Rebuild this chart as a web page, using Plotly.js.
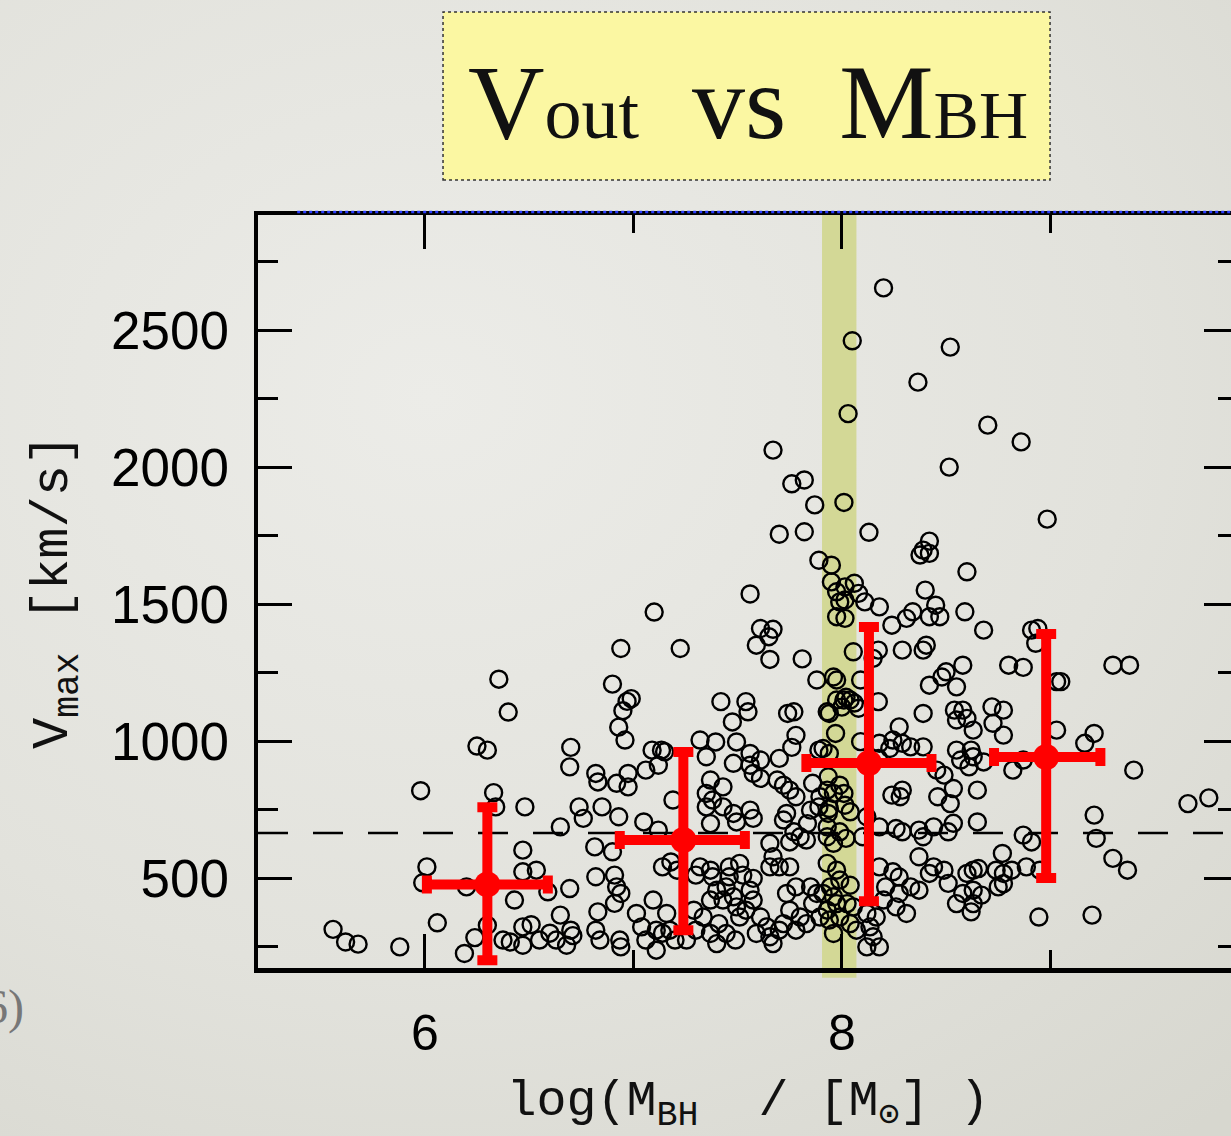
<!DOCTYPE html>
<html><head><meta charset="utf-8">
<script src="https://cdn.plot.ly/plotly-3.0.1.min.js"></script>
<style>
html,body{margin:0;padding:0;overflow:hidden;width:1231px;height:1136px;}
body{background: radial-gradient(ellipse 95% 85% at 35% 35%, #ececE8 0%, #e2e2dc 60%, #d7d7cf 100%);}
#chart{width:1262px;height:1136px;}
</style></head><body><div id="chart"></div>
<script>
// log(M_BH) for each source
const massX = [
8.20,8.05,8.52,8.365,8.03,8.70,8.86,7.67,8.515,7.82,7.76,7.87,8.01,8.985,7.70,7.82,8.13,8.42,
7.56,7.10,6.94,7.225,6.355,6.40,6.25,6.30,5.98,6.33,6.34,6.01,5.99,6.20,6.06,5.56,5.62,5.68,5.88,6.24,6.19,6.30,
6.695,6.82,6.83,6.92,6.975,6.975,7.06,7.12,6.48,6.74,6.76,6.85,6.93,6.65,7.05,7.12,7.19,6.47,6.815,6.90,
6.47,6.535,6.59,6.695,6.82,6.91,6.92,6.94,6.91,6.43,6.83,7.015,7.095,7.14,7.18,7.21,7.16,
6.47,6.51,6.60,6.65,6.70,6.71,6.375,6.41,6.47,6.55,6.63,6.68,6.82,6.84,6.935,6.94,7.04,7.06,7.11,7.14,7.175,7.20,7.11,
6.90,6.99,6.97,6.95,6.93,6.96,6.70,7.09,7.135,7.15,
7.61,7.67,7.65,7.59,7.655,7.81,7.88,7.42,7.54,7.55,7.475,7.74,7.77,7.78,7.76,7.32,7.395,7.495,7.35,7.56,7.61,7.70,7.48,7.89,
7.95,7.975,7.99,7.975,7.95,7.89,7.975,7.93,7.975,7.97,
8.015,8.06,8.08,8.015,8.11,8.18,8.39,8.42,8.375,8.60,8.40,8.45,8.47,8.42,8.34,8.31,8.24,8.59,8.015,8.055,8.175,8.15,8.29,8.39,8.405,
8.58,8.50,8.48,7.96,8.09,8.02,8.04,8.01,8.06,8.00,8.08,8.175,8.42,8.55,7.94,8.39,8.54,8.58,8.60,8.55,8.275,8.245,8.29,8.23,8.33,8.39,
8.55,8.57,8.62,8.63,8.09,8.18,8.175,7.91,7.94,
7.935,7.99,8.01,7.93,7.89,7.94,8.015,8.04,7.935,8.12,8.18,8.26,8.29,8.37,8.39,8.51,8.29,8.28,8.24,8.455,8.49,8.46,8.52,8.535,8.61,8.65,
7.93,7.99,8.02,8.10,7.96,7.93,8.37,8.44,8.49,8.51,8.42,8.60,8.63,8.58,8.63,8.55,8.18,8.245,8.275,8.21,8.20,8.275,8.33,8.37,8.26,8.31,8.165,8.12,
7.93,7.975,7.99,8.04,7.945,7.91,7.96,7.975,8.025,8.055,7.93,7.99,7.94,8.04,7.96,8.07,8.135,8.15,8.12,8.18,8.535,8.44,
7.56,7.575,7.61,7.69,7.72,7.75,7.78,7.37,7.43,7.35,7.38,7.35,7.43,7.48,7.56,7.495,7.575,7.37,7.86,7.895,7.96,7.85,7.835,7.735,7.72,7.77,7.80,7.75,7.83,
7.655,7.67,7.70,7.75,7.655,7.32,7.37,7.30,7.38,7.46,7.51,7.46,7.525,7.575,7.40,7.445,7.37,7.43,7.48,7.56,7.575,7.54,7.495,
7.29,7.335,7.30,7.37,7.41,7.445,7.49,7.40,7.255,7.51,7.61,7.64,7.59,7.655,7.70,7.67,7.735,7.78,7.85,7.88,7.86,7.75,7.80,7.72,7.78,7.83,7.895,
8.68,8.91,8.94,8.93,8.80,8.87,9.30,9.38,9.03,9.05,8.72,8.775,8.725,8.775,8.63,8.68,9.03,9.21,9.165,8.87,9.40,
8.82,9.66,9.76,8.65,9.21,8.87,8.91,9.22,9.30,9.37,8.77,8.655,8.74,8.775,8.815,8.885,8.95,8.63,8.67,8.75,8.775,8.62,8.945,9.20
];
// V_max [km/s] for each source
const vmaxY = [
2654,2461,2438,2310,2195,2153,2092,2062,2000,1953,1939,1862,1871,1810,1755,1764,1762,1730,
1537,1471,1338,1338,1226,1106,982,967,819,812,760,541,483,468,337,313,267,259,249,283,225,328,
906,882,851,846,882,833,894,912,760,760,718,760,724,687,705,675,785,602,614,596,
523,529,450,462,505,511,468,444,408,420,377,371,420,541,559,529,371,
322,330,299,365,310,290,274,267,255,274,274,255,310,274,274,249,322,274,310,299,310,274,237,
1208,1155,1145,1111,1051,1004,977,967,967,961,
1411,1408,1381,1350,1298,1300,1223,1144,1144,1107,1070,1101,1107,1021,977,1004,997,997,943,955,931,937,919,967,
1581,1545,1508,1454,1642,1660,1223,1107,1150,1028,
1563,1576,1539,1515,1508,1490,1697,1685,1679,1618,1551,1496,1454,1454,1472,1448,1423,1472,1448,1326,1332,1302,1332,1332,1350,
1277,1253,1234,1234,1223,1160,1150,1150,1139,1124,1120,1144,1204,1198,1101,1101,1113,1113,1083,1077,1052,1004,992,973,979,979,
967,931,967,943,998,992,937,973,955,
870,839,809,821,760,754,766,742,736,724,687,681,669,675,651,669,821,797,803,894,876,797,772,827,906,821,
687,669,645,651,627,651,578,541,529,481,517,517,529,444,407,407,541,523,504,468,420,444,468,456,395,371,358,371,
554,529,493,474,468,444,432,407,407,395,383,358,347,334,298,310,322,286,249,249,700,687,
912,882,864,858,839,821,797,858,833,809,785,760,760,736,748,705,718,699,846,797,809,748,699,736,712,669,651,632,639,
627,578,541,541,541,541,529,511,505,541,554,505,511,499,456,468,420,420,432,456,420,383,395,
383,358,310,298,334,298,274,261,274,358,358,322,298,286,310,261,444,468,468,444,407,383,358,334,310,334,358,
1405,1405,1411,1357,1277,1269,1277,1277,1217,1217,1125,1113,1065,1022,1040,924,1040,1028,992,931,894,
894,772,793,705,730,657,632,645,572,529,590,535,529,517,529,541,529,456,438,468,480,377,358,365
];
// binned means with error bars
const binX = [6.30, 7.24, 8.13, 8.98];
const binY = [477, 639, 920, 942];
const binXErrPlus = [0.29, 0.295, 0.30, 0.26];
const binXErrMinus = [0.29, 0.305, 0.30, 0.25];
const binYErrPlus = [282, 321, 496, 449];
const binYErrMinus = [277, 329, 504, 442];
// reference lines / band
const refVmax = 665;
const bandX = [7.905, 8.07];
const xTickVals = [6, 8];
const xMinorVals = [7, 9];
const yTickVals = [500, 1000, 1500, 2000, 2500];

const cloud = {
  type: 'scatter', mode: 'markers', x: massX, y: vmaxY,
  marker: {symbol: 'circle-open', size: 17, color: '#000', line: {width: 2.4, color: '#000'}},
  hoverinfo: 'skip', showlegend: false
};
const bins = {
  type: 'scatter', mode: 'markers', x: binX, y: binY,
  marker: {color: '#ff0000', size: 26},
  error_x: {type: 'data', symmetric: false, array: binXErrPlus, arrayminus: binXErrMinus, color: '#ff0000', thickness: 10, width: 9},
  error_y: {type: 'data', symmetric: false, array: binYErrPlus, arrayminus: binYErrMinus, color: '#ff0000', thickness: 10, width: 10},
  hoverinfo: 'skip', showlegend: false
};

const layout = {
  width: 1262, height: 1136,
  margin: {l: 258, r: 24, t: 215, b: 168, pad: 0},
  paper_bgcolor: 'rgba(0,0,0,0)', plot_bgcolor: 'rgba(0,0,0,0)',
  showlegend: false,
  title: {
    text: 'V<span style="font-size:74px">out</span>&nbsp;&nbsp;vs&nbsp;&nbsp;M<span style="font-size:68px">BH</span>',
    font: {family: 'Liberation Serif, serif', size: 106, color: '#111'},
    xref: 'paper', x: 0.5, xanchor: 'center',
    yref: 'container', y: 1 - 101/1136, yanchor: 'middle'
  },
  xaxis: {
    range: [5.2, 9.9], autorange: false,
    tickmode: 'array', tickvals: xTickVals, ticktext: xTickVals.map(String),
    ticks: 'inside', ticklen: 34, tickwidth: 3, tickcolor: '#000',
    minor: {tickmode: 'array', tickvals: xMinorVals, ticks: 'inside', ticklen: 18, tickwidth: 3, tickcolor: '#000', showgrid: false},
    showline: true, linecolor: '#000', linewidth: 4.5, mirror: 'ticks',
    showgrid: false, zeroline: false,
    tickfont: {family: 'Liberation Sans, Arial, sans-serif', size: 50, color: '#000'},
    ticklabelstandoff: 17,
    title: {text: 'log(M<sub>BH</sub>&nbsp;&nbsp;/&nbsp;[M<sub>⊙</sub>]&nbsp;)', font: {family: 'Liberation Mono, Courier New, monospace', size: 50, color: '#111'}, standoff: 28},
    automargin: false
  },
  yaxis: {
    range: [172, 2920], autorange: false,
    tickmode: 'array', tickvals: yTickVals, ticktext: yTickVals.map(String),
    ticks: 'inside', ticklen: 34, tickwidth: 3, tickcolor: '#000',
    minor: {tick0: 250, dtick: 500, ticks: 'inside', ticklen: 20, tickwidth: 3, tickcolor: '#000', showgrid: false},
    showline: true, linecolor: '#000', linewidth: 4.5, mirror: 'ticks',
    showgrid: false, zeroline: false,
    tickfont: {family: 'Liberation Sans, Arial, sans-serif', size: 53, color: '#000'},
    ticklabelstandoff: 14,
    title: {text: 'V<sub>max</sub> [km/s]', font: {family: 'Liberation Mono, Courier New, monospace', size: 52, color: '#111'}, standoff: 28},
    automargin: false
  },
  shapes: [
    {type: 'rect', xref: 'x', yref: 'paper', x0: bandX[0], x1: bandX[1], y0: -0.013, y1: 1, fillcolor: '#d3d896', line: {width: 0}, layer: 'below'},
    {type: 'line', xref: 'paper', yref: 'y', x0: 0, x1: 1, y0: refVmax, y1: refVmax, line: {color: '#000', width: 2.5, dash: '30px,25px'}, layer: 'below'},
    {type: 'rect', xref: 'paper', yref: 'paper', x0: 0.1888, x1: 0.8082, y0: 1.0465, y1: 1.2696, fillcolor: '#fbf7a2', line: {color: '#333', width: 1.5, dash: 'dot'}, layer: 'below'},
    {type: 'line', xref: 'paper', yref: 'paper', x0: 0.04, x1: 1, y0: 1.004, y1: 1.004, line: {color: '#2a3cff', width: 2.5, dash: 'dot'}}
  ],
  annotations: [
    {text: '(2016)', xref: 'paper', yref: 'paper', x: (26-258)/980, y: (968-1007)/753, xanchor: 'right', yanchor: 'middle', showarrow: false,
     font: {family: 'Liberation Serif, serif', size: 48, color: '#777'}}
  ]
};

Plotly.newPlot('chart', [cloud, bins], layout, {displayModeBar: false, staticPlot: true});
</script></body></html>
